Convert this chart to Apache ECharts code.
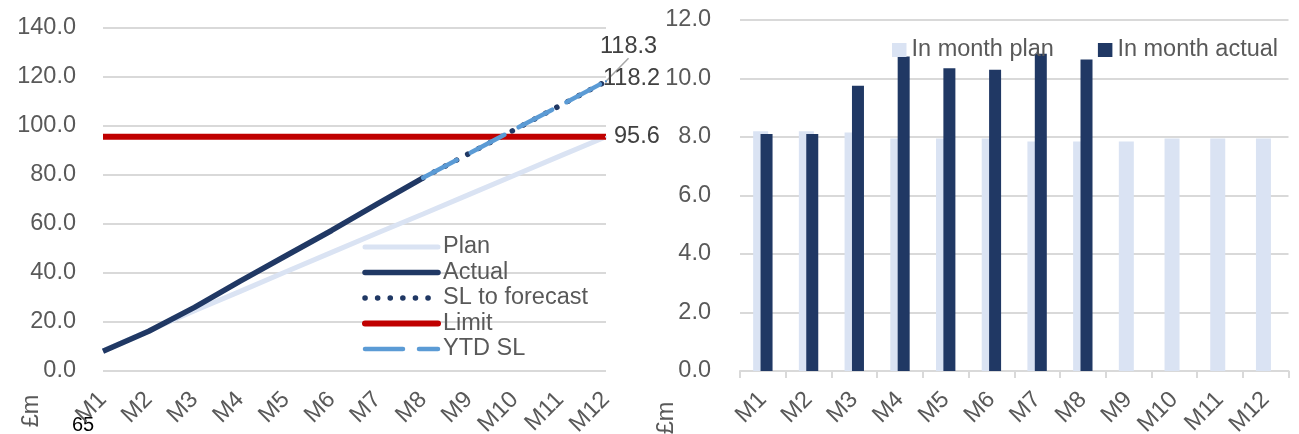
<!DOCTYPE html>
<html>
<head>
<meta charset="utf-8">
<script src="https://cdn.jsdelivr.net/npm/echarts@6/dist/echarts.min.js"></script>
<style>
  html, body { margin: 0; padding: 0; background: #ffffff; }
  #chart { width: 1299px; height: 434px; }
</style>
</head>
<body>
<div id="chart"></div>
<script>
// Months of the financial year
const months = ['M1', 'M2', 'M3', 'M4', 'M5', 'M6', 'M7', 'M8', 'M9', 'M10', 'M11', 'M12'];

// Cumulative position (£m)
const cumPlan      = [8.2, 16.4, 24.6, 32.5, 40.5, 48.4, 56.3, 64.1, 72.0, 79.9, 87.8, 95.6];
const cumActual    = [8.1, 16.2, 25.95, 36.7, 47.05, 57.35, 68.2, 78.85, null, null, null, null];
const slToForecast = [null, null, null, null, null, null, null, 78.85, 88.7, 98.5, 108.4, 118.2];
const limitLine    = [95.6, 95.6, 95.6, 95.6, 95.6, 95.6, 95.6, 95.6, 95.6, 95.6, 95.6, 95.6];
const ytdSL        = [null, null, null, null, null, null, null, 78.85, 88.7, 98.6, 108.4, 118.3];

// In-month position (£m)
const monthPlan   = [8.2, 8.2, 8.15, 7.95, 7.95, 7.95, 7.85, 7.85, 7.85, 7.95, 7.95, 7.95];
const monthActual = [8.1, 8.1, 9.75, 10.75, 10.35, 10.3, 10.85, 10.65, null, null, null, null];

const FONT = '"Liberation Sans", Arial, sans-serif';
const FS = 23.5;
const AXIS_GREY = '#595959';
const GRID_GREY = '#D9D9D9';
const NAVY = '#203864';
const LIGHT = '#DAE3F3';
const RED = '#C00000';
const SKY = '#5B9BD5';

// Put a value label on the final point of a line
function withEndLabel(values, labelOpts) {
  const last = values.length - 1;
  return values.map(function (v, i) {
    if (i !== last) return v;
    return {
      value: v,
      symbol: 'circle',
      symbolSize: 2,
      label: Object.assign({
        show: true,
        position: 'right',
        distance: 6,
        color: '#404040',
        fontSize: FS,
        fontFamily: FONT,
        formatter: function (p) { return p.value.toFixed(1); }
      }, labelOpts || {})
    };
  });
}

const chart = echarts.init(document.getElementById('chart'), null, { renderer: 'canvas' });

const option = {
  animation: false,
  backgroundColor: '#ffffff',
  textStyle: { fontFamily: FONT },
  grid: [
    { left: 103, right: 693, top: 28, bottom: 63, containLabel: false, outerBoundsMode: 'none' },
    { left: 740, right: 10.5, top: 20, bottom: 63, containLabel: false, outerBoundsMode: 'none' }
  ],
  legend: [
    {
      orient: 'vertical',
      left: 357,
      top: 230,
      itemWidth: 73,
      itemHeight: 14,
      itemGap: 1.5,
      data: ['Plan', 'Actual', 'SL to forecast', 'Limit', 'YTD SL'],
      textStyle: { fontSize: FS, color: AXIS_GREY, fontFamily: FONT },
      lineStyle: { width: 'inherit', cap: 'round' },
      itemStyle: { color: 'transparent', borderWidth: 0 }
    },
    {
      orient: 'horizontal',
      left: 887,
      top: 33,
      icon: 'rect',
      itemWidth: 14.5,
      itemHeight: 14,
      itemGap: 44,
      data: ['In month plan', 'In month actual'],
      textStyle: { fontSize: FS, color: AXIS_GREY, fontFamily: FONT }
    }
  ],
  xAxis: [
    {
      type: 'category',
      gridIndex: 0,
      data: months,
      boundaryGap: false,
      axisLine: { show: false },
      axisTick: { show: false },
      axisLabel: { rotate: 45, interval: 0, margin: 25, color: AXIS_GREY, fontSize: FS, fontFamily: FONT }
    },
    {
      type: 'category',
      gridIndex: 1,
      data: months,
      boundaryGap: true,
      axisLine: { show: true, lineStyle: { color: GRID_GREY, width: 2 } },
      axisTick: { show: true, length: 7, lineStyle: { color: GRID_GREY, width: 2 } },
      axisLabel: { rotate: 45, interval: 0, margin: 25, color: AXIS_GREY, fontSize: FS, fontFamily: FONT }
    }
  ],
  yAxis: [
    {
      type: 'value',
      gridIndex: 0,
      min: 0, max: 140, interval: 20,
      axisLine: { show: false },
      axisTick: { show: false },
      splitLine: { lineStyle: { color: GRID_GREY, width: 2 } },
      axisLabel: { margin: 27, color: AXIS_GREY, fontSize: FS, fontFamily: FONT,
                   formatter: function (v) { return v.toFixed(1); } }
    },
    {
      type: 'value',
      gridIndex: 1,
      min: 0, max: 12, interval: 2,
      axisLine: { show: false },
      axisTick: { show: false },
      splitLine: { lineStyle: { color: GRID_GREY, width: 2 } },
      axisLabel: { margin: 29, color: AXIS_GREY, fontSize: FS, fontFamily: FONT,
                   formatter: function (v) { return v.toFixed(1); } }
    }
  ],
  series: [
    {
      name: 'Plan',
      type: 'line',
      xAxisIndex: 0, yAxisIndex: 0,
      symbol: 'none',
      clip: false,
      color: LIGHT,
      lineStyle: { color: LIGHT, width: 5 },
      itemStyle: { color: LIGHT },
      data: withEndLabel(cumPlan, { distance: 7 })
    },
    {
      name: 'Actual',
      type: 'line',
      xAxisIndex: 0, yAxisIndex: 0,
      symbol: 'none',
      color: NAVY,
      lineStyle: { color: NAVY, width: 5.5 },
      data: cumActual
    },
    {
      name: 'SL to forecast',
      type: 'line',
      xAxisIndex: 0, yAxisIndex: 0,
      symbol: 'none',
      clip: false,
      color: NAVY,
      lineStyle: { color: NAVY, width: 5.5, type: [0.1, 12.5], cap: 'round' },
      itemStyle: { color: NAVY },
      data: withEndLabel(slToForecast, { distance: -4, offset: [0, -3] })
    },
    {
      name: 'Limit',
      type: 'line',
      xAxisIndex: 0, yAxisIndex: 0,
      symbol: 'none',
      color: RED,
      lineStyle: { color: RED, width: 6 },
      data: limitLine
    },
    {
      name: 'YTD SL',
      type: 'line',
      xAxisIndex: 0, yAxisIndex: 0,
      symbol: 'none',
      clip: false,
      color: SKY,
      lineStyle: { color: SKY, width: 4.5, type: [38, 16], cap: 'round' },
      itemStyle: { color: SKY },
      labelLine: { show: true, lineStyle: { color: '#A6A6A6', width: 1.5 } },
      labelLayout: { dx: -12, dy: -35 },
      data: withEndLabel(ytdSL, { distance: 5 })
    },
    {
      name: 'In month plan',
      type: 'bar',
      xAxisIndex: 1, yAxisIndex: 1,
      barWidth: 15,
      barGap: '-50.7%',
      color: LIGHT,
      itemStyle: { color: LIGHT },
      data: monthPlan
    },
    {
      name: 'In month actual',
      type: 'bar',
      xAxisIndex: 1, yAxisIndex: 1,
      barWidth: 12,
      barGap: '-50.7%',
      color: NAVY,
      itemStyle: { color: NAVY },
      data: monthActual
    }
  ],
  graphic: [
    { type: 'text', x: 32, y: 411, rotation: Math.PI / 2,
      style: { text: '£m', fill: AXIS_GREY, font: FS + 'px ' + FONT, textAlign: 'center', textVerticalAlign: 'middle' } },
    { type: 'text', x: 667, y: 418, rotation: Math.PI / 2,
      style: { text: '£m', fill: AXIS_GREY, font: FS + 'px ' + FONT, textAlign: 'center', textVerticalAlign: 'middle' } },
    { type: 'text', left: 72, top: 415,
      style: { text: '65', fill: '#000000', font: '20px ' + FONT } }
  ]
};

chart.setOption(option);
</script>
</body>
</html>
